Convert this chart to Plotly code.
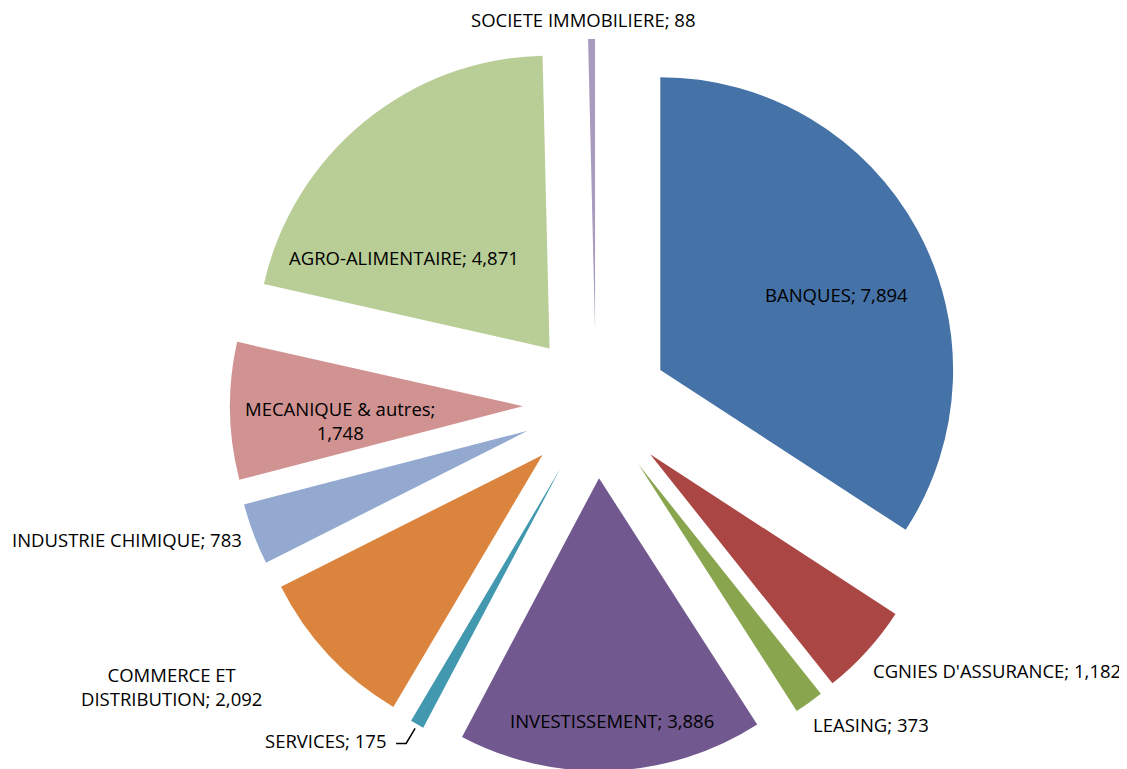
import math
import plotly.graph_objects as go

# ---- data ----
categories = ["BANQUES", "CGNIES D'ASSURANCE", "LEASING", "INVESTISSEMENT", "SERVICES",
              "COMMERCE ET DISTRIBUTION", "INDUSTRIE CHIMIQUE", "MECANIQUE & autres",
              "AGRO-ALIMENTAIRE", "SOCIETE IMMOBILIERE"]
values = [7894, 1182, 373, 3886, 175, 2092, 783, 1748, 4871, 88]
label_text = ["BANQUES; 7,894", "CGNIES D'ASSURANCE; 1,182", "LEASING; 373",
              "INVESTISSEMENT; 3,886", "SERVICES; 175", "COMMERCE ET<br>DISTRIBUTION; 2,092",
              "INDUSTRIE CHIMIQUE; 783", "MECANIQUE & autres;<br>1,748",
              "AGRO-ALIMENTAIRE; 4,871", "SOCIETE IMMOBILIERE; 88"]

# ---- style ----
colors = ["#4572A7", "#AA4643", "#89A54E", "#71588F", "#4198AF",
          "#DB843D", "#93A9CF", "#D19392", "#B9CD96", "#A99BBD"]
# label placement: angle offset from slice mid-angle (deg), radius factor (x pie radius), anchor
label_style = [(3.9, 0.904, "center"), (1.7, 1.305, "left"), (1.7, 1.315, "left"),
               (-0.5, 1.079, "center"), (2.4, 1.346, "right"), (2.8, 1.486, "right"),
               (-0.2, 1.288, "right"), (-2.5, 0.877, "center"), (-13.1, 0.825, "center"),
               (-1.3, 1.318, "center")]

W, H = 1127, 769
PULL = 0.25
DOM_X = [0.0434, 1.0]
DOM_Y = [0.0078, 0.9597]
FONT = "Open Sans"
FSIZE = 18.5

fig = go.Figure(go.Pie(
    labels=categories, values=values, sort=False, direction="clockwise", rotation=0,
    pull=[PULL] * len(values), textinfo="none", hoverinfo="label+value",
    marker=dict(colors=colors, line=dict(width=0)),
    domain=dict(x=DOM_X, y=DOM_Y), showlegend=False,
))

# geometry (mirrors plotly's pie scaling)
cx = W * (DOM_X[0] + DOM_X[1]) / 2
cy = H * (1 - (DOM_Y[0] + DOM_Y[1]) / 2)
R = min(W * (DOM_X[1] - DOM_X[0]), H * (DOM_Y[1] - DOM_Y[0])) / 2 / (1 + PULL)
total = sum(values)

def to_paper(px, py):
    return px / W, 1 - py / H

cum = 0
annotations = []
shapes = []
for i, v in enumerate(values):
    mid = (cum + v / 2) / total * 360
    cum += v
    off, rf, anchor = label_style[i]
    th = math.radians(mid + off)
    px = cx + rf * R * math.sin(th)
    py = cy - rf * R * math.cos(th)
    x, y = to_paper(px, py)
    annotations.append(dict(x=x, y=y, xref="paper", yref="paper", text=label_text[i],
                            showarrow=False, xanchor=anchor, yanchor="middle", align="center",
                            font=dict(family=FONT, size=FSIZE, color="#000000")))
    if categories[i] == "SERVICES":
        tm = math.radians(mid)
        tx = cx + (1 + PULL) * R * math.sin(tm)
        ty = cy - (1 + PULL) * R * math.cos(tm)
        p0 = to_paper(px + 7, py + 3)
        p1 = to_paper(px + 17, py + 3)
        p2 = to_paper(tx - 2, ty + 4)
        shapes.append(dict(type="path", xref="paper", yref="paper",
                           path=f"M {p0[0]},{p0[1]} L {p1[0]},{p1[1]} L {p2[0]},{p2[1]}",
                           line=dict(color="#000000", width=1.5)))

fig.update_layout(width=W, height=H, margin=dict(l=0, r=0, t=0, b=0),
                  paper_bgcolor="white", plot_bgcolor="white",
                  annotations=annotations, shapes=shapes)
fig.write_html("out.html")
